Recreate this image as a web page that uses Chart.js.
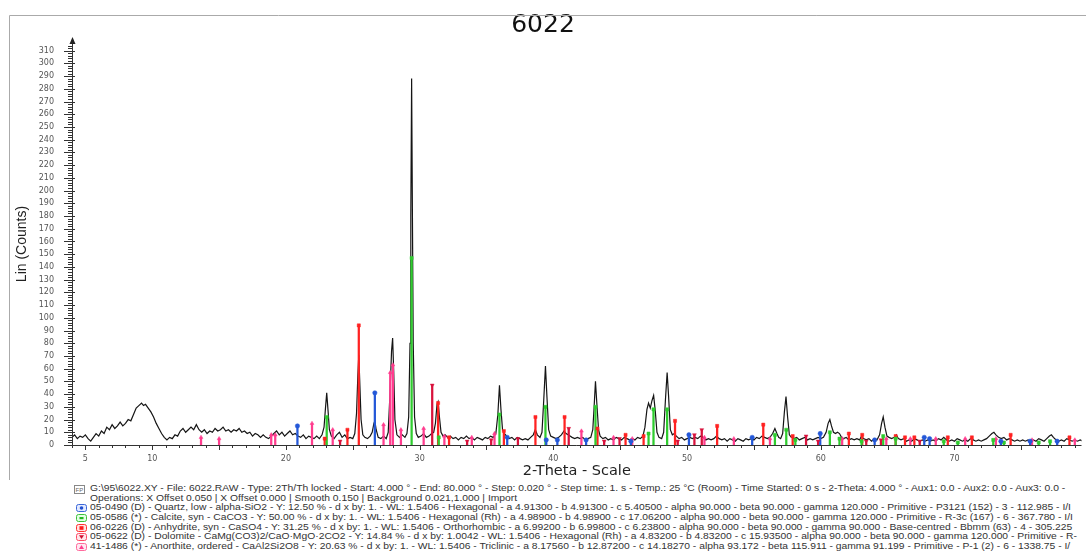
<!DOCTYPE html>
<html>
<head>
<meta charset="utf-8">
<script src="https://cdn.jsdelivr.net/npm/chart.js@4.4.1/dist/chart.umd.min.js"></script>
<style>
html, body { margin: 0; padding: 0; background: #fff; }
#wrap { position: relative; width: 1086px; height: 560px; overflow: hidden; }
#c { position: absolute; left: 0; top: 0; }
#legend { position: absolute; left: 0; top: 484px; width: 1086px; font-family: "Liberation Sans", Arial, sans-serif; font-size: 8.6px; color: #333; white-space: nowrap; }
.row { position: relative; height: 9.7px; line-height: 9.7px; overflow: hidden; }
.row svg { position: absolute; top: 1px; }
.row span { position: absolute; left: 90px; transform: scaleX(1.2); transform-origin: 0 50%; }
</style>
</head>
<body>
<div id="wrap">
  <canvas id="c" width="1086" height="480"></canvas>
  <div id="legend"></div>
</div>
<script>
// measured pattern, [2-theta, counts]
const pattern = [
  [4.0,6],[4.2,8],[4.4,5],[4.6,7],[4.8,6],[5.0,8],[5.2,5],[5.4,3],[5.6,6],[5.8,9],
  [6.0,7],[6.2,11],[6.4,9],[6.6,14],[6.8,12],[7.0,16],[7.2,13],[7.4,15],[7.6,18],[7.8,15],
  [8.0,17],[8.2,20],[8.4,19],[8.6,24],[8.8,29],[9.0,31],[9.2,33],[9.35,31],[9.5,32],[9.7,29],
  [9.9,26],[10.1,22],[10.3,17],[10.5,13],[10.7,9],[10.9,6],[11.1,4],[11.3,6],[11.5,5],[11.7,8],
  [11.9,7],[12.1,11],[12.3,13],[12.5,10],[12.7,12],[12.9,14],[13.1,12],[13.3,16],[13.5,12],[13.7,10],
  [13.9,12],[14.1,9],[14.3,11],[14.5,10],[14.7,13],[14.9,11],[15.1,12],[15.3,14],[15.5,11],[15.7,12],
  [15.9,10],[16.1,12],[16.3,11],[16.5,13],[16.7,10],[16.9,11],[17.1,9],[17.3,10],[17.5,7],[17.7,9],
  [17.9,8],[18.1,6],[18.3,8],[18.5,6],[18.7,5],[18.9,7],[19.1,9],[19.3,11],[19.5,8],[19.7,10],
  [19.9,7],[20.1,9],[20.3,11],[20.5,8],[20.7,9],[20.9,7],[21.1,6],[21.3,8],[21.5,5],[21.7,7],
  [21.9,6],[22.1,5],[22.3,7],[22.5,5],[22.7,8],[22.85,14],[22.95,28],[23.05,41],[23.15,27],[23.25,12],
  [23.4,7],[23.6,5],[23.8,8],[24.0,10],[24.2,6],[24.4,8],[24.6,5],[24.8,6],[25.0,5],[25.15,9],
  [25.28,25],[25.38,55],[25.45,71],[25.52,50],[25.62,20],[25.75,8],[25.9,6],[26.1,5],[26.3,7],[26.45,10],
  [26.58,17],[26.65,19],[26.75,12],[26.9,6],[27.1,5],[27.3,7],[27.5,5],[27.65,10],[27.78,40],[27.9,74],
  [27.98,84],[28.06,58],[28.15,20],[28.3,8],[28.5,6],[28.7,8],[28.9,6],[29.05,9],[29.18,22],[29.28,80],
  [29.34,180],[29.4,288],[29.46,180],[29.52,80],[29.62,22],[29.75,9],[29.9,6],[30.1,7],[30.3,9],[30.5,6],
  [30.7,7],[30.9,9],[31.05,10],[31.18,17],[31.3,32],[31.38,34],[31.48,22],[31.6,10],[31.75,7],[31.9,8],
  [32.1,6],[32.3,7],[32.5,5],[32.7,6],[32.9,4],[33.1,6],[33.3,5],[33.5,7],[33.7,5],[33.9,6],
  [34.1,4],[34.3,6],[34.5,5],[34.7,4],[34.9,6],[35.1,5],[35.3,7],[35.5,6],[35.7,9],[35.85,24],
  [35.97,47],[36.08,28],[36.2,12],[36.35,9],[36.5,7],[36.7,5],[36.9,6],[37.1,4],[37.3,6],[37.5,5],
  [37.7,4],[37.9,5],[38.1,4],[38.3,6],[38.5,8],[38.65,12],[38.8,8],[39.0,6],[39.15,10],[39.28,35],
  [39.41,62],[39.52,38],[39.65,12],[39.8,7],[40.0,6],[40.2,5],[40.4,6],[40.6,8],[40.8,11],[40.95,9],
  [41.1,8],[41.25,7],[41.4,6],[41.6,5],[41.8,6],[42.0,5],[42.2,6],[42.4,4],[42.6,5],[42.8,6],
  [42.95,12],[43.05,30],[43.15,50],[43.25,33],[43.38,12],[43.5,7],[43.7,5],[43.9,6],[44.1,4],[44.3,5],
  [44.5,4],[44.7,6],[44.9,5],[45.1,4],[45.3,6],[45.5,5],[45.7,4],[45.9,5],[46.1,4],[46.3,6],
  [46.5,5],[46.7,7],[46.85,14],[47.0,28],[47.12,33],[47.25,29],[47.38,35],[47.5,39],[47.62,27],[47.75,10],
  [47.9,6],[48.1,5],[48.25,10],[48.38,35],[48.51,57],[48.62,38],[48.75,12],[48.9,8],[49.05,9],[49.2,7],
  [49.4,5],[49.6,6],[49.8,4],[50.0,5],[50.2,6],[50.4,5],[50.6,6],[50.8,5],[51.0,7],[51.2,6],
  [51.4,4],[51.6,5],[51.8,4],[52.0,5],[52.2,7],[52.4,5],[52.6,4],[52.8,5],[53.0,3],[53.2,5],
  [53.4,4],[53.6,3],[53.8,5],[54.0,4],[54.2,3],[54.4,5],[54.6,4],[54.8,5],[55.0,4],[55.2,6],
  [55.4,5],[55.6,7],[55.8,6],[56.0,5],[56.2,6],[56.4,9],[56.57,13],[56.72,9],[56.85,6],[57.0,5],
  [57.15,9],[57.28,26],[57.4,38],[57.52,22],[57.65,8],[57.8,6],[58.0,5],[58.2,6],[58.4,4],[58.6,5],
  [58.8,6],[59.0,4],[59.2,5],[59.4,4],[59.6,5],[59.8,6],[60.0,5],[60.2,6],[60.4,10],[60.55,17],
  [60.68,20],[60.8,15],[60.95,10],[61.1,9],[61.25,10],[61.4,9],[61.55,6],[61.7,5],[61.9,6],[62.1,4],
  [62.3,5],[62.5,4],[62.7,5],[62.9,4],[63.05,7],[63.2,5],[63.4,4],[63.6,5],[63.8,3],[64.0,5],
  [64.2,4],[64.4,8],[64.55,17],[64.67,22],[64.8,14],[64.95,7],[65.1,6],[65.3,5],[65.5,6],[65.65,8],
  [65.8,5],[66.0,4],[66.2,5],[66.4,3],[66.6,4],[66.8,3],[67.0,5],[67.2,4],[67.4,3],[67.6,4],
  [67.8,3],[68.0,4],[68.2,3],[68.4,4],[68.6,3],[68.8,5],[69.0,4],[69.2,6],[69.4,4],[69.6,3],
  [69.8,4],[70.0,3],[70.2,5],[70.4,4],[70.6,3],[70.8,4],[71.0,3],[71.2,5],[71.4,4],[71.6,3],
  [71.8,4],[72.0,3],[72.2,4],[72.4,5],[72.6,7],[72.8,9],[72.95,10],[73.1,8],[73.3,6],[73.5,5],
  [73.7,6],[73.9,4],[74.1,5],[74.3,4],[74.5,3],[74.7,4],[74.9,3],[75.1,4],[75.3,3],[75.5,4],
  [75.7,3],[75.9,4],[76.1,3],[76.3,5],[76.5,4],[76.7,3],[76.9,5],[77.1,7],[77.25,8],[77.4,6],
  [77.6,4],[77.8,3],[78.0,4],[78.2,3],[78.4,5],[78.6,4],[78.8,3],[79.0,4],[79.2,3],[79.4,4],
  [79.6,3],[79.8,4],[80.0,3]
];

// reference patterns (stick positions and heights in counts)
const quartzPos = [20.86, 26.65, 36.55, 39.47, 40.3, 42.45, 45.8, 50.14, 54.87, 59.96, 64.03, 67.74, 68.14, 73.47, 75.66, 77.68];
const quartzH   = [15, 41, 6, 4, 4, 4, 3, 8, 6, 9, 4, 6, 5, 3, 3, 3];
const calcitePos = [23.05, 29.4, 31.43, 35.97, 39.41, 43.15, 47.12, 47.49, 48.51, 56.57, 57.42, 58.1, 60.68, 61.4, 63.05, 64.67, 65.6, 69.2, 70.25, 72.9, 73.7, 76.3, 77.15];
const calciteH   = [22, 147, 6, 24, 30, 30, 9, 28, 28, 8, 12, 4, 10, 5, 3, 7, 5, 3, 2, 4, 2, 2, 3];
const anhydritePos = [22.9, 24.6, 25.45, 31.38, 32.2, 36.3, 38.66, 40.84, 43.3, 45.4, 46.75, 49.1, 52.25, 55.7, 57.9, 62.1, 63.1, 65.6, 66.3, 67.0, 69.5, 71.3, 74.2, 78.6];
const anhydriteH   = [5, 12, 94, 33, 6, 11, 22, 22, 13, 8, 7, 19, 15, 16, 7, 9, 8, 7, 6, 6, 6, 6, 8, 6];
const dolomitePos = [24.05, 30.94, 33.55, 35.35, 37.35, 41.15, 43.8, 44.95, 49.3, 50.55, 51.1, 58.9, 59.8, 63.4, 64.5, 67.4];
const dolomiteH   = [3, 47, 3, 4, 5, 13, 3, 5, 3, 8, 12, 7, 3, 3, 4, 3];
const anorthitePos = [13.65, 15.0, 18.9, 19.2, 21.95, 23.5, 27.3, 27.8, 28.0, 28.6, 30.3, 31.85, 33.9, 35.6, 42.1, 44.5, 45.9, 51.3, 53.5, 56.2, 61.6, 64.9, 66.7, 68.6, 70.8, 73.1, 75.8, 79.0];
const anorthiteH   = [6, 5, 8, 8, 17, 12, 16, 57, 63, 12, 13, 7, 6, 9, 11, 6, 5, 6, 5, 5, 5, 5, 5, 5, 5, 5, 4, 4];

const xTickLabels = [5, 10, 20, 30, 40, 50, 60, 70];
const yTickLabels = [0,10,20,30,40,50,60,70,80,90,100,110,120,130,140,150,160,170,180,190,200,210,220,230,240,250,260,270,280,290,300,310];

const legendRows = [
  ['file', 'G:\\95\\6022.XY - File: 6022.RAW - Type: 2Th/Th locked - Start: 4.000 ° - End: 80.000 ° - Step: 0.020 ° - Step time: 1. s - Temp.: 25 °C (Room) - Time Started: 0 s - 2-Theta: 4.000 ° - Aux1: 0.0 - Aux2: 0.0 - Aux3: 0.0 -'],
  ['', 'Operations: X Offset 0.050 | X Offset 0.000 | Smooth 0.150 | Background 0.021,1.000 | Import'],
  ['quartz', '05-0490 (D) - Quartz, low - alpha-SiO2 - Y: 12.50 % - d x by: 1. - WL: 1.5406 - Hexagonal - a 4.91300 - b 4.91300 - c 5.40500 - alpha 90.000 - beta 90.000 - gamma 120.000 - Primitive - P3121 (152) - 3 - 112.985 - I/I'],
  ['calcite', '05-0586 (*) - Calcite, syn - CaCO3 - Y: 50.00 % - d x by: 1. - WL: 1.5406 - Hexagonal (Rh) - a 4.98900 - b 4.98900 - c 17.06200 - alpha 90.000 - beta 90.000 - gamma 120.000 - Primitive - R-3c (167) - 6 - 367.780 - I/I'],
  ['anhydrite', '06-0226 (D) - Anhydrite, syn - CaSO4 - Y: 31.25 % - d x by: 1. - WL: 1.5406 - Orthorhombic - a 6.99200 - b 6.99800 - c 6.23800 - alpha 90.000 - beta 90.000 - gamma 90.000 - Base-centred - Bbmm (63) - 4 - 305.225'],
  ['dolomite', '05-0622 (D) - Dolomite - CaMg(CO3)2/CaO·MgO·2CO2 - Y: 14.84 % - d x by: 1.0042 - WL: 1.5406 - Hexagonal (Rh) - a 4.83200 - b 4.83200 - c 15.93500 - alpha 90.000 - beta 90.000 - gamma 120.000 - Primitive - R-'],
  ['anorthite', '41-1486 (*) - Anorthite, ordered - CaAl2Si2O8 - Y: 20.63 % - d x by: 1. - WL: 1.5406 - Triclinic - a 8.17560 - b 12.87200 - c 14.18270 - alpha 93.172 - beta 115.911 - gamma 91.199 - Primitive - P-1 (2) - 6 - 1338.75 - I/']
];

const FONT = '"Liberation Sans", Arial, sans-serif';
const WIDE = '"DejaVu Sans", sans-serif';

function sticks(pos, h) {
  return pos.map((x, i) => ({x: x, y: h[i]}));
}

function phase(label, pos, h, color, style, rot) {
  return [
    { type: 'bar', label: label, data: sticks(pos, h), backgroundColor: color,
      barThickness: 1.6, grouped: false, order: 2 },
    { type: 'scatter', label: label + ' top', data: sticks(pos, h), pointStyle: style,
      rotation: rot || 0, pointRadius: 2.2, backgroundColor: color, borderColor: color,
      borderWidth: 0.5, order: 1 }
  ];
}

//frame, axis arrow and tick marks
const decor = {
  id: 'decor',
  afterDraw(chart) {
    const c = chart.ctx, xs = chart.scales.x, ys = chart.scales.y;
    const a = chart.chartArea;
    c.save();
    c.strokeStyle = '#aaa';
    c.lineWidth = 1;
    c.beginPath();
    c.moveTo(9.5, 480); c.lineTo(9.5, 15.5); c.lineTo(1086, 15.5);
    c.stroke();
    c.strokeStyle = '#333';
    c.beginPath();
    c.moveTo(a.left + 0.5, a.bottom); c.lineTo(a.left + 0.5, a.top - 2);
    c.moveTo(a.left, a.bottom + 0.5); c.lineTo(a.right, a.bottom + 0.5);
    for (let v = 0; v <= 314; v += 2) {
      const p = Math.round(ys.getPixelForValue(v)) + 0.5;
      if (v % 10 === 0) { c.moveTo(a.left - 8, p); c.lineTo(a.left + 3, p); }
      else { c.moveTo(a.left - 4, p); c.lineTo(a.left + 1, p); }
    }
    for (let v = 4; v <= 79; v += 1) {
      const p = Math.round(xs.getPixelForValue(v)) + 0.5;
      const len = (v % 5 === 0) ? 5 : 3;
      c.moveTo(p, a.bottom); c.lineTo(p, a.bottom + len);
    }
    c.stroke();
    c.fillStyle = '#222';
    c.beginPath();
    c.moveTo(a.left + 0.5, a.top - 6); c.lineTo(a.left - 2.5, a.top + 1); c.lineTo(a.left + 3.5, a.top + 1);
    c.closePath();
    c.fill();
    c.restore();
  }
};

const datasets = [
  { type: 'line', label: '6022', data: pattern.map(p => ({x: p[0], y: p[1]})),
    borderColor: '#151515', borderWidth: 1.2, pointRadius: 0, tension: 0, order: 5 }
].concat(
  phase('Quartz', quartzPos, quartzH, '#2458d8', 'circle'),
  phase('Calcite', calcitePos, calciteH, '#2fcc2f', 'rect'),
  phase('Anhydrite', anhydritePos, anhydriteH, '#ff2222', 'rect'),
  phase('Dolomite', dolomitePos, dolomiteH, '#d8123c', 'triangle', 180),
  phase('Anorthite', anorthitePos, anorthiteH, '#ff3d8e', 'triangle')
);

new Chart(document.getElementById('c'), {
  type: 'scatter',
  data: { datasets: datasets },
  options: {
    responsive: false,
    animation: false,
    layout: { padding: 0 },
    plugins: {
      legend: { display: false },
      tooltip: { enabled: false },
      title: { display: true, text: '6022', color: '#111',
        font: { family: WIDE, size: 25, weight: 'normal', lineHeight: 1.2 },
        padding: { top: 10, bottom: 3 } }
    },
    scales: {
      x: {
        type: 'linear', min: 4, max: 79.5, offset: false,
        afterBuildTicks: s => { s.ticks = xTickLabels.map(v => ({value: v})); },
        afterFit: s => { s.height = 35; },
        grid: { display: false, drawTicks: false },
        border: { display: false },
        ticks: { padding: 9, color: '#555', font: { family: WIDE, size: 8 }, autoSkip: false, maxRotation: 0 },
        title: { display: true, text: '2-Theta - Scale', color: '#222',
          font: { family: WIDE, size: 14.5 }, padding: { top: 0, bottom: 0 } }
      },
      y: {
        min: 0, max: 316,
        afterBuildTicks: s => { s.ticks = yTickLabels.map(v => ({value: v})); },
        afterFit: s => { s.width = 72; },
        grid: { display: false, drawTicks: false },
        border: { display: false },
        ticks: { padding: 18, color: '#555', font: { family: WIDE, size: 8 } },
        title: { display: true, text: 'Lin (Counts)', color: '#222',
          font: { family: FONT, size: 14 }, padding: { top: 13.6, bottom: 0 } }
      }
    }
  },
  plugins: [decor]
});

// legend block below the chart
const icons = {
  file: '<svg width="12" height="9" style="left:74px"><rect x="0.5" y="0.5" width="10" height="8" fill="#fff" stroke="#888"/><text x="1.5" y="7" font-size="6" fill="#666" font-family="Liberation Sans">FP</text></svg>',
  quartz: '<svg width="11" height="8" style="left:76px"><rect x="0.5" y="0.5" width="10" height="7" rx="2" fill="#e2e9ff" stroke="#3a66d8"/><circle cx="5.5" cy="4" r="1.8" fill="#2050d0"/></svg>',
  calcite: '<svg width="11" height="8" style="left:76px"><rect x="0.5" y="0.5" width="10" height="7" rx="2" fill="#e4ffe4" stroke="#3cc03c"/><rect x="3.5" y="3" width="4" height="2.2" fill="#22b822"/></svg>',
  anhydrite: '<svg width="11" height="8" style="left:76px"><rect x="0.5" y="0.5" width="10" height="7" rx="2" fill="#ffe2e2" stroke="#ff3030"/><rect x="3.5" y="2.2" width="4" height="3.6" fill="#ff1a1a"/></svg>',
  dolomite: '<svg width="11" height="8" style="left:76px"><rect x="0.5" y="0.5" width="10" height="7" rx="2" fill="#ffe6ea" stroke="#ff4a66"/><path d="M3 2.2 L8 2.2 L5.5 6 Z" fill="#d01030"/></svg>',
  anorthite: '<svg width="11" height="8" style="left:76px"><rect x="0.5" y="0.5" width="10" height="7" rx="2" fill="#ffe8f1" stroke="#ff6a9c"/><path d="M3 6 L8 6 L5.5 2 Z" fill="#ff3d8e"/></svg>'
};
const legendDiv = document.getElementById('legend');
legendRows.forEach(r => {
  const row = document.createElement('div');
  row.className = 'row';
  row.innerHTML = (icons[r[0]] || '') + '<span></span>';
  row.querySelector('span').textContent = r[1];
  legendDiv.appendChild(row);
});
</script>
</body>
</html>
